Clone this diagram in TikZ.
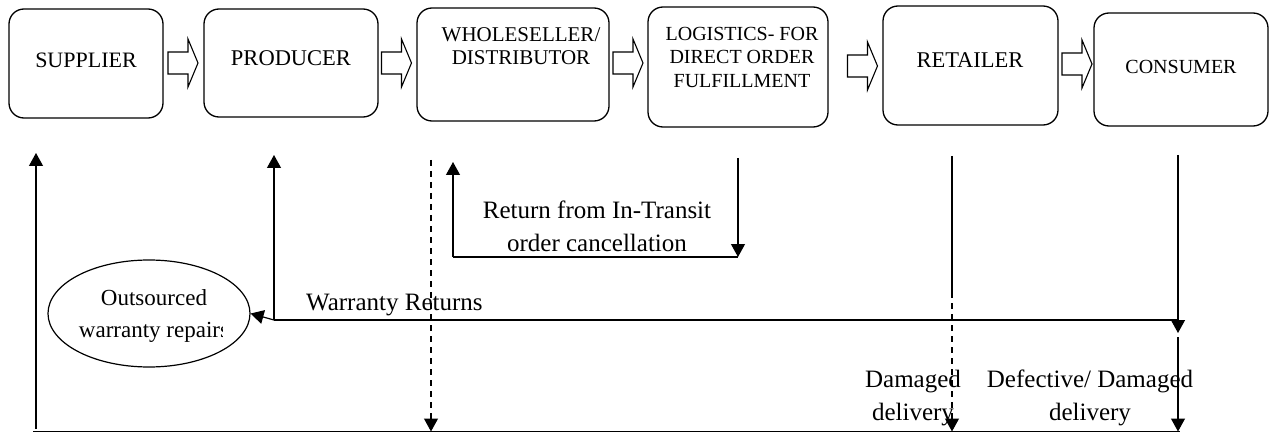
\documentclass[tikz,border=0pt]{standalone}
\usepackage{fontspec}
\setmainfont{Liberation Serif}
\usetikzlibrary{arrows.meta,calc,shapes.geometric}
\begin{document}
\begin{tikzpicture}[x=1pt,y=-1pt,
  box/.style={draw, line width=1.3pt, rounded corners=15pt, inner sep=0pt, outer sep=0pt},
  btxt/.style={font=\fontsize{#1}{23.5}\selectfont, align=center, inner sep=0pt},
  ltxt/.style={font=\fontsize{25}{33}\selectfont, align=center, inner sep=0pt},
  etxt/.style={font=\fontsize{23}{32}\selectfont, inner sep=0pt, anchor=base},
  conn/.style={line width=1.2pt},
  arr/.style={conn, -{Triangle[length=13pt,width=14pt]}},
  dline/.style={dash pattern=on 6pt off 5pt},
  barr/.pic={\draw[line width=1.1pt, fill=white] (-15,-11) -- (5,-11) -- (5,-24) -- (15,0) -- (5,24) -- (5,11) -- (-15,11) -- cycle;}
]
\useasboundingbox (0,0) rectangle (1270,433);

% boxes
\node[box, minimum width=154pt, minimum height=109pt] (sup) at (86,63.5) {};
\node[box, minimum width=174pt, minimum height=108pt] (pro) at (291,63) {};
\node[box, minimum width=192pt, minimum height=113pt] (who) at (513,64.5) {};
\node[box, minimum width=180pt, minimum height=120pt] (log) at (738,67) {};
\node[box, minimum width=175pt, minimum height=119pt] (ret) at (970.5,65.5) {};
\node[box, minimum width=174pt, minimum height=113pt] (con) at (1181,69.5) {};

% box texts
\node[btxt=22] (tsup) at (86,60) {SUPPLIER};
\node[btxt=22.5] (tpro) at (291,58) {PRODUCER};
\node[btxt=21] (twho) at (521,46) {WHOLESELLER/\\DISTRIBUTOR};
\node[btxt=20] (tlog) at (742,57) {LOGISTICS- FOR\\DIRECT ORDER\\FULFILLMENT};
\node[btxt=22.5] (tret) at (970,60) {RETAILER};
\node[btxt=20] (tcon) at (1181,67) {CONSUMER};

% block arrows
\pic (b1) at (183,63) {barr};
\pic (b2) at (396.5,63) {barr};
\pic (b3) at (628,63) {barr};
\pic (b4) at (862.5,66) {barr};
\pic (b5) at (1077,64) {barr};

% ellipse
\node[draw, ellipse, line width=1.2pt, minimum width=202pt, minimum height=107pt, inner sep=0pt] (ell) at (149,313.5) {};
\begin{scope}
\clip (40,250) rectangle (222,380);
\node[etxt] (tell1) at (154,305) {Outsourced};
\node[etxt] (tell2) at (154,337) {warranty repairs};
\end{scope}

% coordinates
\coordinate (bl) at (33,431.5);
\coordinate (br) at (1180,431.5);
\coordinate (s0) at (36,429);
\coordinate (s1) at (36,153);
\coordinate (p0) at (274,320);
\coordinate (p1) at (274,155);
\coordinate (wr) at (1178,320);
\coordinate (w0) at (431,160);
\coordinate (w1) at (431,431.5);
\coordinate (t0) at (453,257);
\coordinate (t1) at (453,162);
\coordinate (u0) at (738,158);
\coordinate (u1) at (738,257);
\coordinate (r0) at (952,156);
\coordinate (r1) at (952,292);
\coordinate (r2) at (952,431.5);
\coordinate (c0) at (1178,155);
\coordinate (c1) at (1178,333);
\coordinate (c2) at (1178,337);
\coordinate (c3) at (1178,431.5);

% connectors
\draw[conn] (bl) -- (br);
\draw[arr] (s0) -- (s1);
\draw[arr] (p0) -- (p1);
\draw[arr] (p0) -- (ell.east);
\draw[conn] (p0) -- (wr);
\draw[arr, dline] (w0) -- (w1);
\draw[arr] (t0) -- (t1);
\draw[conn] (t0) -- (u1);
\draw[arr] (u0) -- (u1);
\draw[conn] (r0) -- (r1);
\draw[arr, dline] (r1) -- (r2);
\draw[arr] (c0) -- (c1);
\draw[arr] (c2) -- (c3);

% labels
\node[ltxt, anchor=west] (lwar) at (306,305) {Warranty Returns};
\node[ltxt] (lret) at (597,226) {Return from In-Transit\\order cancellation};
\node[ltxt] (ldam) at (913,398) {Damaged\\delivery};
\node[ltxt] (ldef) at (1090,398) {Defective/ Damaged\\delivery};
\end{tikzpicture}
\end{document}
